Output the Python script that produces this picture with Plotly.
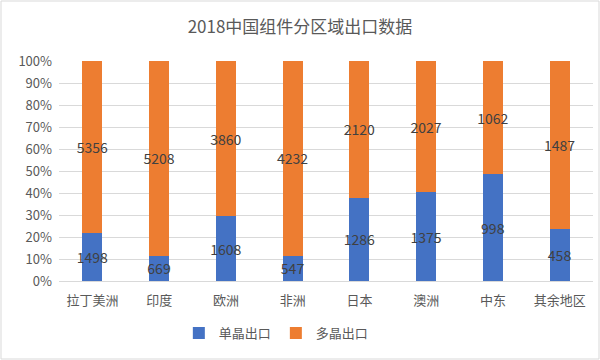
import plotly.graph_objects as go

categories = ["拉丁美洲", "印度", "欧洲", "非洲", "日本", "澳洲", "中东", "其余地区"]
mono = [1498, 669, 1608, 547, 1286, 1375, 998, 458]
poly = [5356, 5208, 3860, 4232, 2120, 2027, 1062, 1487]
series_names = ["单晶出口", "多晶出口"]

FONT = "Noto Sans CJK SC, Noto Sans, sans-serif"
TXT = "#404040"

fig = go.Figure()
for name, vals, color in [(series_names[0], mono, "#4472C4"), (series_names[1], poly, "#ED7D31")]:
    fig.add_trace(go.Bar(
        x=categories, y=vals, name=name, marker_color=color, marker_line_width=0,
        text=[str(v) for v in vals], textposition="inside", insidetextanchor="middle",
        textangle=0, constraintext="none",
        textfont=dict(color=TXT, size=14, family=FONT),
    ))

W, H = 600, 360
ml, mr, mt, mb = 59, 7, 61, 79
pw, ph = W - ml - mr, H - mt - mb

fig.update_layout(
    width=W, height=H,
    barmode="stack", barnorm="percent", bargap=0.7,
    margin=dict(l=ml, r=mr, t=mt, b=mb, autoexpand=False),
    paper_bgcolor="white", plot_bgcolor="white",
    font=dict(family=FONT, color="#595959", size=13),
    title=dict(text="2018中国组件分区域出口数据", x=0.5, xanchor="center", y=1 - 27 / H, yanchor="middle",
               font=dict(size=17, color="#595959", family=FONT)),
    legend=dict(orientation="h", x=0.407, xanchor="center", yref="container", y=1 - 333 / H, yanchor="middle",
                font=dict(size=13, color="#595959", family=FONT), itemwidth=30, itemsizing="constant",
                traceorder="normal", tracegroupgap=0),
    xaxis=dict(showgrid=False, showline=True, linecolor="#D9D9D9", ticks="", automargin=False,
               tickfont=dict(size=13, color="#595959"), ticklabelstandoff=7),
    yaxis=dict(range=[0, 100], dtick=10, ticksuffix="%", gridcolor="#D9D9D9", zeroline=False, automargin=False,
               showline=False, tickfont=dict(size=13, color="#595959"), ticklabelstandoff=6),
    shapes=[dict(type="rect", xref="paper", yref="paper",
                 x0=(-ml + 1) / pw, x1=1 + (mr - 1) / pw, y0=(-mb + 1) / ph, y1=1 + (mt - 1) / ph,
                 line=dict(color="#D9D9D9", width=1), fillcolor="rgba(0,0,0,0)")],
)

fig.write_html("out.html", config={"displayModeBar": False},
               post_script="document.body.style.margin='0';")
